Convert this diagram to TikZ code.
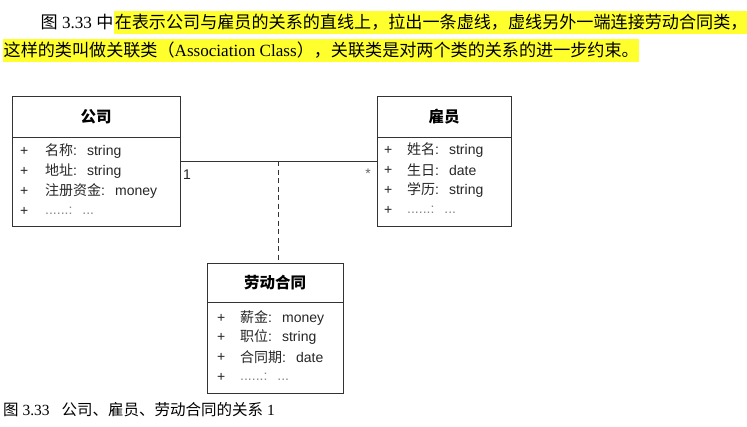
\documentclass[tikz,border=0pt]{standalone}
\usepackage{fontspec}
\setmainfont{Liberation Serif}
\newfontfamily\cjk{Noto Sans CJK SC}
\newfontfamily\arialf{Liberation Sans}
\definecolor{hly}{HTML}{FFFF2E}
\definecolor{lc}{HTML}{333333}
\definecolor{dotc}{HTML}{888888}
\newcommand\csep{\hspace{10pt}}
\begin{document}
\begin{tikzpicture}[x=1pt,y=-1pt,
  box/.style={draw=lc, line width=1.1pt, minimum width=#1, minimum height=130pt, inner sep=0pt, anchor=north west},
  hdr/.style={font=\cjk\bfseries\fontsize{15.5}{18}\selectfont, inner sep=0pt},
  attr/.style={font=\arialf\fontsize{14}{16}\selectfont, inner sep=0pt, anchor=west, text=black!85},
  ttl/.style={font=\fontsize{17.1}{20}\selectfont, inner xsep=0.5pt, inner ysep=0pt, text height=17pt, text depth=6pt, anchor=base west},
  hl/.style={ttl, fill=hly},
  captxt/.style={font=\fontsize{15.5}{18}\selectfont, inner sep=0pt, anchor=west},
  conn/.style={draw=lc, line width=1pt},
  mult/.style={font=\arialf\fontsize{14}{16}\selectfont, inner sep=0pt, text=black!85}
]
\useasboundingbox (0,0) rectangle (747,426);
\fill[white] (0,0) rectangle (747,426);

% title text
\node[ttl] (t1a) at (40,28) {{\cjk 图} 3.33 {\cjk 中}};
\node[hl] (t1b) at (t1a.base east) {\cjk 在表示公司与雇员的关系的直线上，拉出一条虚线，虚线另外一端连接劳动合同类，};
\node[hl] (t2) at (3,56) {{\cjk 这样的类叫做关联类（}Association Class{\cjk ），关联类是对两个类的关系的进一步约束。}};

% boxes
\node[box=168pt] (gs) at (12,96) {};
\node[box=134pt] (gy) at (377,96) {};
\node[box=136pt] (ld) at (207,263) {};

\draw[conn] ([yshift=-41pt]gs.north west) -- ([yshift=-41pt]gs.north east);
\draw[conn] ([yshift=-41pt]gy.north west) -- ([yshift=-41pt]gy.north east);
\draw[conn] ([yshift=-39pt]ld.north west) -- ([yshift=-39pt]ld.north east);

\node[hdr] (gsh) at (96,117) {公司};
\node[hdr] (gyh) at (444,117) {雇员};
\node[hdr] (ldh) at (275,283) {劳动合同};

% attributes of 公司
\node[attr] (gp1) at (20,151) {+};
\node[attr] (gp2) at (20,171) {+};
\node[attr] (gp3) at (20,191) {+};
\node[attr] (gp4) at (20,211) {+};
\node[attr] (ga1) at (45,151) {{\cjk 名称}:\csep string};
\node[attr] (ga2) at (45,171) {{\cjk 地址}:\csep string};
\node[attr] (ga3) at (45,191) {{\cjk 注册资金}:\csep money};
\node[attr, text=dotc] (ga4) at (45,211) {......:\csep ...};

% attributes of 雇员
\node[attr] (yp1) at (384,150) {+};
\node[attr] (yp2) at (384,170) {+};
\node[attr] (yp3) at (384,190) {+};
\node[attr] (yp4) at (384,210) {+};
\node[attr] (ya1) at (407,150) {{\cjk 姓名}:\csep string};
\node[attr] (ya2) at (407,170) {{\cjk 生日}:\csep date};
\node[attr] (ya3) at (407,190) {{\cjk 学历}:\csep string};
\node[attr, text=dotc] (ya4) at (407,210) {......:\csep ...};

% attributes of 劳动合同
\node[attr] (lp1) at (217,318) {+};
\node[attr] (lp2) at (217,337) {+};
\node[attr] (lp3) at (217,357) {+};
\node[attr] (lp4) at (217,377) {+};
\node[attr] (la1) at (240,318) {{\cjk 薪金}:\csep money};
\node[attr] (la2) at (240,337) {{\cjk 职位}:\csep string};
\node[attr] (la3) at (240,357) {{\cjk 合同期}:\csep date};
\node[attr, text=dotc] (la4) at (240,377) {......:\csep ...};

% association
\draw[conn] (gs.east) -- (gy.west);
\coordinate (m) at (278,161);
\draw[conn, dash pattern=on 5pt off 3.5pt] (m) -- (m |- ld.north);
\node[mult] (m1) at (187,175) {1};
\node[mult, text=black!60] (m2) at (368,174) {*};

% caption
\node[captxt] (c) at (3,410) {{\cjk 图} 3.33\hspace{12pt}{\cjk 公司、雇员、劳动合同的关系} 1};
\end{tikzpicture}
\end{document}
